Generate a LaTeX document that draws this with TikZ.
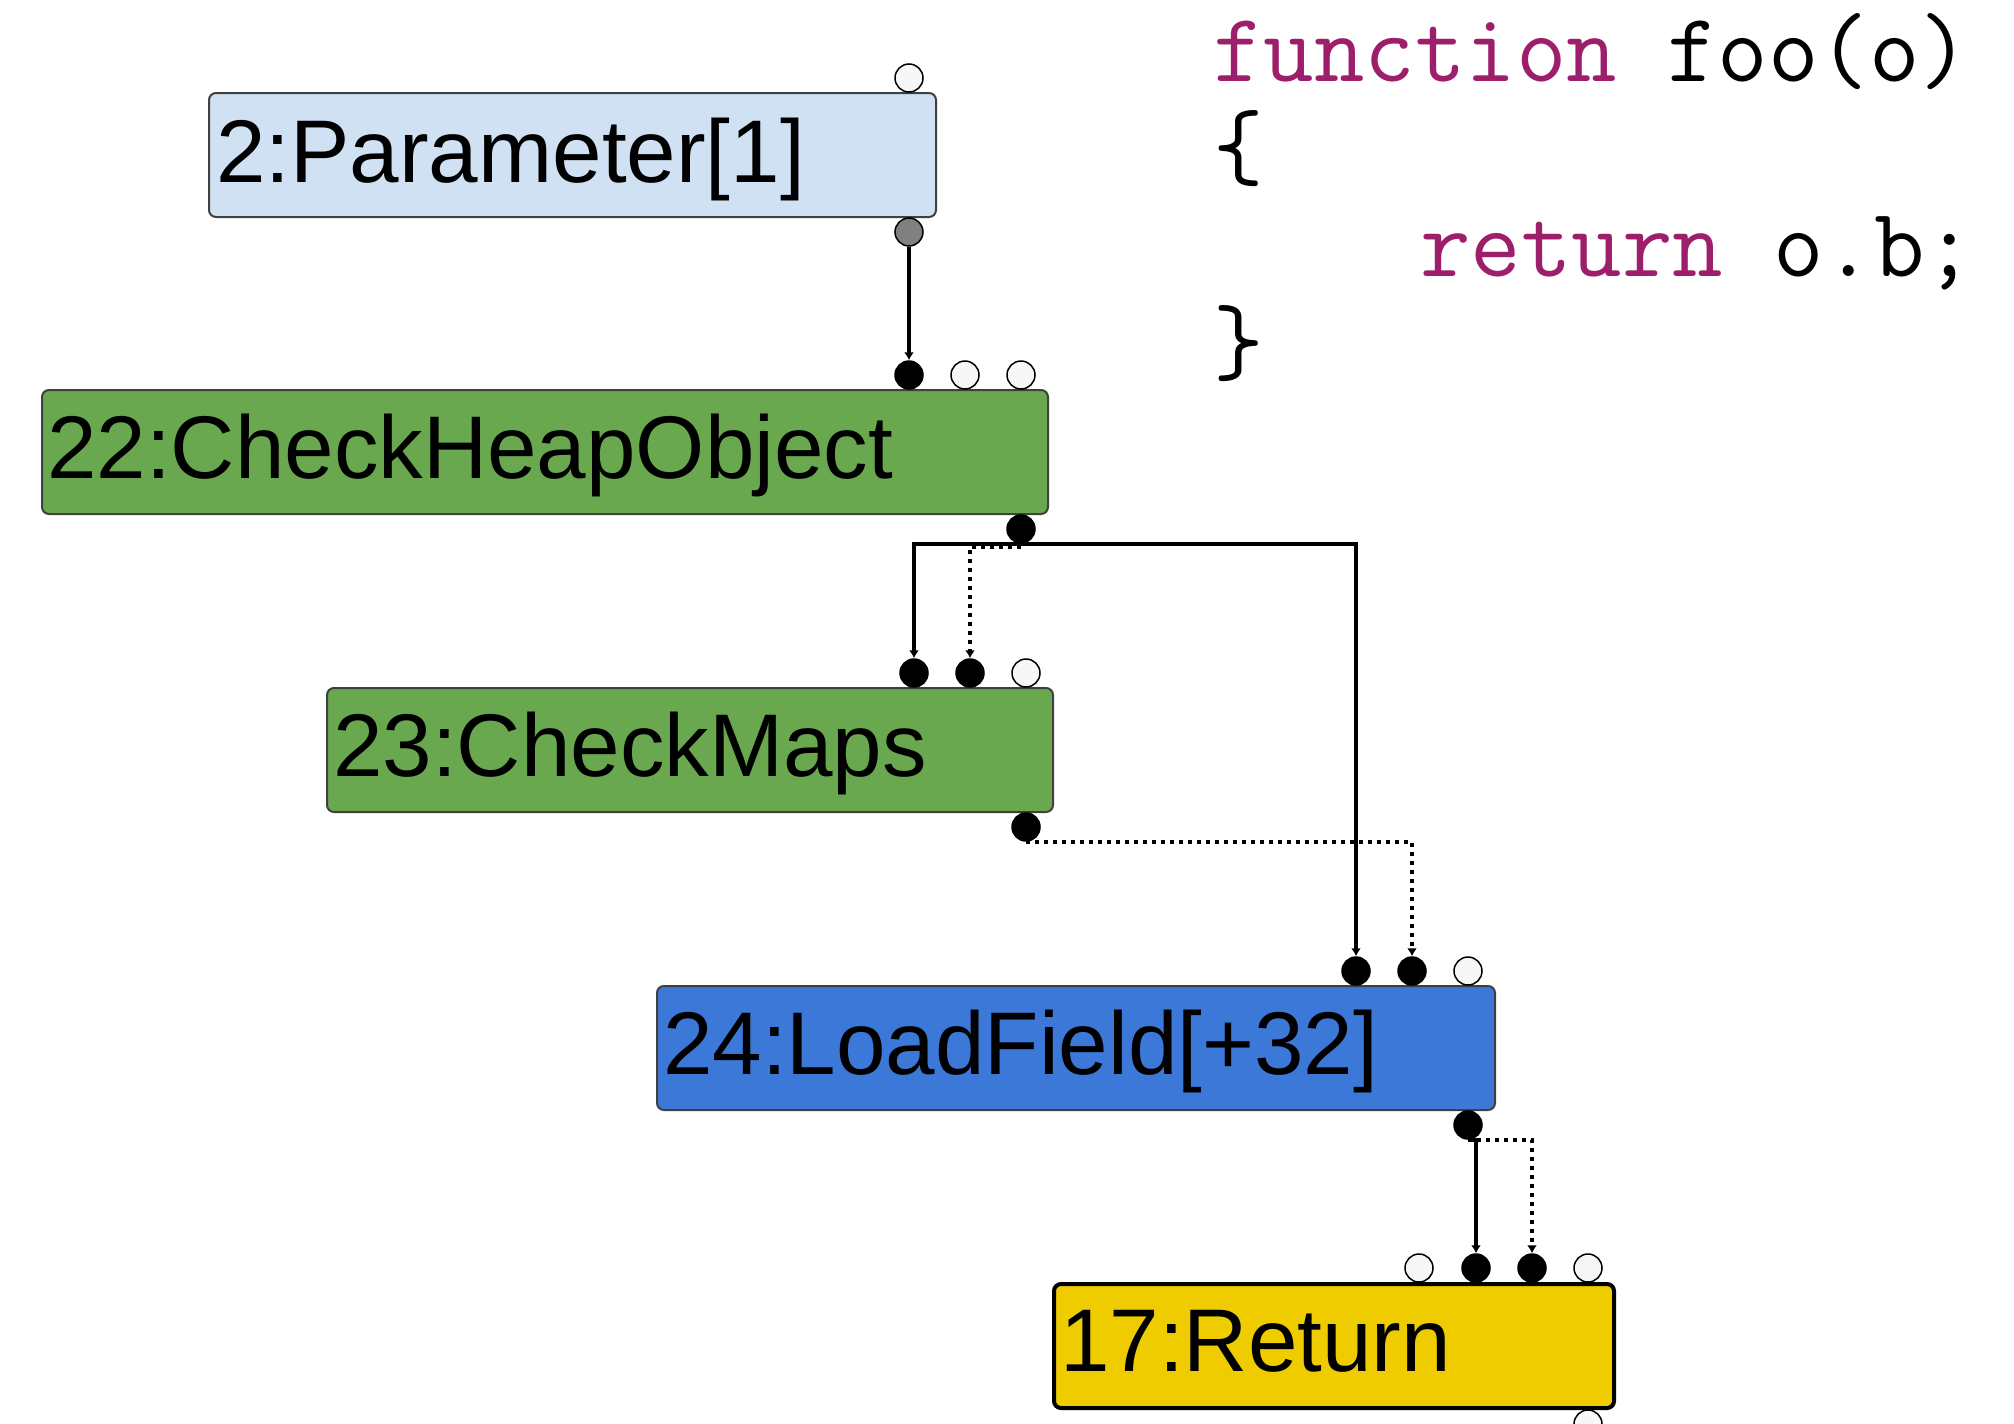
\documentclass[tikz,border=0pt]{standalone}
\usepackage{fontspec}
\setmainfont{Liberation Sans}
\usetikzlibrary{arrows.meta,calc}
\definecolor{paramblue}{RGB}{207,225,242}
\definecolor{checkgreen}{RGB}{106,168,79}
\definecolor{loadblue}{RGB}{60,120,216}
\definecolor{retyellow}{RGB}{238,204,0}
\definecolor{kwpurple}{RGB}{157,30,106}
\definecolor{portwhite}{RGB}{247,247,247}
\definecolor{portgrey}{RGB}{128,128,128}
\begin{document}
\begin{tikzpicture}[x=1pt,y=-1pt,
  opbox/.style={draw=black!75, line width=2pt, rounded corners=7pt, minimum width=#1, minimum height=124pt, anchor=north west, inner sep=0pt},
  lbl/.style={anchor=base west, inner sep=0pt, font=\fontsize{89}{100}\selectfont},
  code/.style={anchor=base west, inner sep=0pt, font=\ttfamily\fontsize{98}{112}\selectfont},
  port/.style={circle, draw=black, line width=1.5pt, minimum size=28pt, inner sep=0pt},
  portfull/.style={port, fill=black},
  portfree/.style={port, fill=portwhite},
  portgray/.style={port, fill=portgrey},
  wire/.style={line width=4pt, -{Latex[length=8pt,width=10pt]}},
  dotwire/.style={wire, dash pattern=on 4pt off 5pt}
]
\useasboundingbox (0,0) rectangle (2014,1424);

% boxes
\node[opbox=727pt, fill=paramblue] (par) at (208,92) {};
\node[opbox=1006pt, fill=checkgreen] (cho) at (41,389) {};
\node[opbox=726pt, fill=checkgreen] (cm) at (326,687) {};
\node[opbox=838pt, fill=loadblue] (lf) at (656,985) {};
\node[opbox=560pt, fill=retyellow, draw=black, line width=4pt] (ret) at (1052,1282) {};

% labels
\node[lbl] (partext) at ($(par.north west)+(8,90)$) {2:Parameter[1]};
\node[lbl] (chotext) at ($(cho.north west)+(6,89)$) {22:CheckHeapObject};
\node[lbl] (cmtext) at ($(cm.north west)+(7,89)$) {23:CheckMaps};
\node[lbl] (lftext) at ($(lf.north west)+(7,89)$) {24:LoadField[+32]};
\node[lbl] (rettext) at ($(ret.north west)+(8,89)$) {17:Return};

% ports
\node[portfree] (pin) at ($(par.north east)+(-28,-14)$) {};
\node[portgray] (pout) at ($(par.south east)+(-28,14)$) {};

\node[portfull] (hin1) at ($(cho.north east)+(-140,-14)$) {};
\node[portfree] (hin2) at ($(cho.north east)+(-84,-14)$) {};
\node[portfree] (hin3) at ($(cho.north east)+(-28,-14)$) {};
\node[portfull] (hout) at ($(cho.south east)+(-28,14)$) {};

\node[portfull] (min1) at ($(cm.north east)+(-140,-14)$) {};
\node[portfull] (min2) at ($(cm.north east)+(-84,-14)$) {};
\node[portfree] (min3) at ($(cm.north east)+(-28,-14)$) {};
\node[portfull] (mout) at ($(cm.south east)+(-28,14)$) {};

\node[portfull] (lin1) at ($(lf.north east)+(-140,-14)$) {};
\node[portfull] (lin2) at ($(lf.north east)+(-84,-14)$) {};
\node[portfree] (lin3) at ($(lf.north east)+(-28,-14)$) {};
\node[portfull] (lout) at ($(lf.south east)+(-28,14)$) {};

\node[portfree] (rin1) at ($(ret.north east)+(-197,-14)$) {};
\node[portfull] (rin2) at ($(ret.north east)+(-140,-14)$) {};
\node[portfull] (rin3) at ($(ret.north east)+(-84,-14)$) {};
\node[portfree] (rin4) at ($(ret.north east)+(-28,-14)$) {};
\node[portfree] (rout) at ($(ret.south east)+(-28,14)$) {};

% connectors
\draw[wire] (pout) -- (hin1);
\draw[wire] (hout.south) -| (min1);
\draw[dotwire] ([yshift=-3pt]hout.south) -| (min2);
\draw[wire] (hout.south) -| (lin1);
\draw[dotwire] (mout.south) -| (lin2);
\draw[wire] (lout.south) -| (rin2);
\draw[dotwire] (lout.south) -| (rin3);

% source code
\node[code] (c1) at (1213,81) {\textcolor{kwpurple}{function} foo(o)};
\node[code] (c2) at (1213,178.5) {\{};
\node[code] (c3) at (1420,276) {\textcolor{kwpurple}{return} o.b;};
\node[code] (c4) at (1213,373.5) {\}};
\end{tikzpicture}
\end{document}
